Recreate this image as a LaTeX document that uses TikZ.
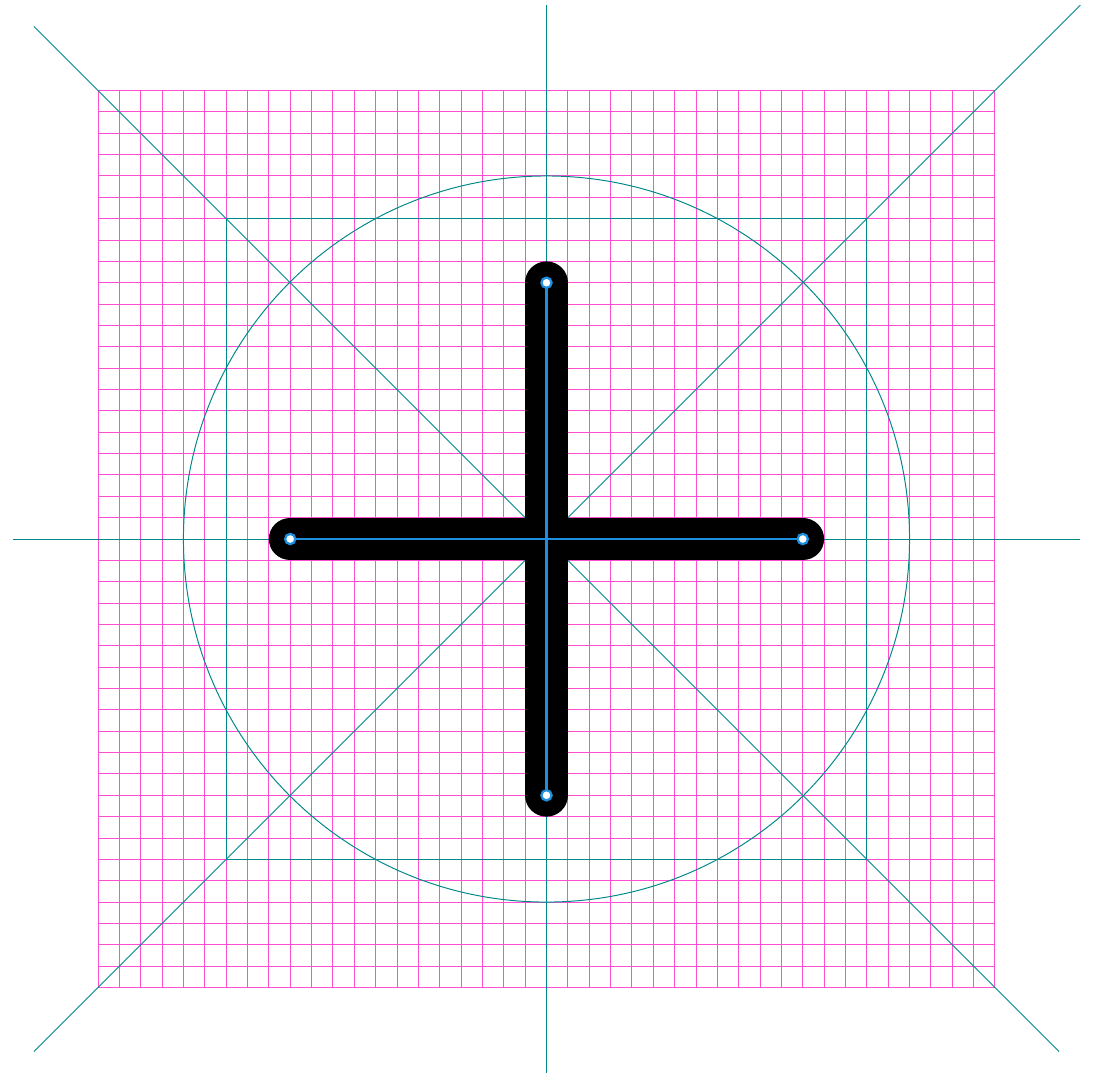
\documentclass[tikz,border=0pt]{standalone}
\usepackage{xcolor}
\usepackage{tikz}
\definecolor{gridpink}{HTML}{FF4FCF}
\definecolor{keyteal}{HTML}{00878A}
\definecolor{pathblue}{HTML}{1E8FE0}

\begin{document}
\begin{tikzpicture}[x=0.5cm,y=0.5cm,
  gridline/.style={gridpink,line width=0.65pt},
  keyline/.style={keyteal,line width=0.65pt},
  glyph/.style={black,line width=1cm,line cap=round},
  skeleton/.style={pathblue,line width=1.5pt},
  anchorpt/.style={pathblue,line width=1.5pt,fill=white}]
  \useasboundingbox (-25.59,-25.05) rectangle (25.59,25.24);
  % pixel grid
  \draw[gridline,step=0.5cm] (-21,-21) grid (21,21);
  % keylines
  \draw[keyline] (0,-25) -- (0,25);
  \draw[keyline] (-25,0) -- (25,0);
  \draw[keyline] (-24,-24) -- (25,25);
  \draw[keyline] (-24,24) -- (24,-24);
  \draw[keyline] (0,0) circle (17);
  \draw[keyline] (-15,-15) rectangle (15,15);
  % the plus
  \coordinate (top) at (0,12);
  \coordinate (bottom) at (0,-12);
  \coordinate (left) at (-12,0);
  \coordinate (right) at (12,0);
  \draw[glyph] (top) -- (bottom);
  \draw[glyph] (left) -- (right);
  \draw[skeleton] (top) -- (bottom);
  \draw[skeleton] (left) -- (right);
  \foreach \p in {top,bottom,left,right}
    \draw[anchorpt] (\p) circle (0.24);
\end{tikzpicture}
\end{document}
